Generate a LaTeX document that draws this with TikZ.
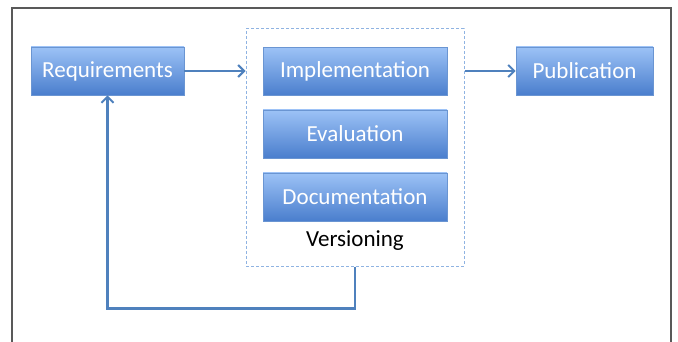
\documentclass[tikz,border=0pt]{standalone}
\usepackage{fontspec}
\setmainfont{Carlito}
\usetikzlibrary{%
  arrows.meta,
  calc%
}
\definecolor{boxtop}{HTML}{9CC2F6}
\definecolor{boxbottom}{HTML}{4A7ECD}
\definecolor{boxline}{HTML}{6A95D2}
\definecolor{flowline}{HTML}{4F81BD}
\definecolor{groupline}{HTML}{8FB3E2}
\tikzset{
  stage/.style={
    draw=boxline,
    line width=0.8pt,
    top color=boxtop,
    bottom color=boxbottom,
    text=white,
    inner sep=0pt,
    minimum height=48,
    minimum width=#1,
    font=\fontsize{23}{27}\selectfont
  },
  flow/.style={
    draw=flowline,
    line width=2.2pt,
    -{Straight Barb[length=6pt,width=12pt,line width=2pt]}
  },
  group/.style={
    draw=groupline,
    dash pattern=on 3pt off 2pt,
    line width=1pt,
    inner sep=0pt,
    minimum width=218,
    minimum height=237
  },
  frame/.style={
    draw=black!65,
    line width=1.2pt
  }
}
\begin{document}
\begin{tikzpicture}[x=1pt,y=-1pt]
\useasboundingbox (0,0) rectangle (678,342);
\draw[frame] (12,342) -- (12,8) -- (671,8) -- (671,342);
% versioning group
\node[group] (box) at (355,147.5) {};
\node[font=\fontsize{23}{27}\selectfont] (vers) at (355,241) {Versioning};
\foreach \name/\y/\txt in {%
  impl/71.5/Implementation,
  eval/134/Evaluation,
  doc/197/Documentation%
} {
  \node[stage=184] (\name) at (355,\y) {\txt};
}
\node[stage=153] (req) at (107.5,71) {Requirements};
\node[stage=137] (pub) at (584.5,71) {Publication};
% connectors
\draw[flow] (req.east) -- (req.east -| box.west);
\draw[flow] (box.east |- pub.west) -- (pub.west);
\draw[flow] (box.south) -- ++(0,42) -| (req.south);
\end{tikzpicture}
\end{document}
